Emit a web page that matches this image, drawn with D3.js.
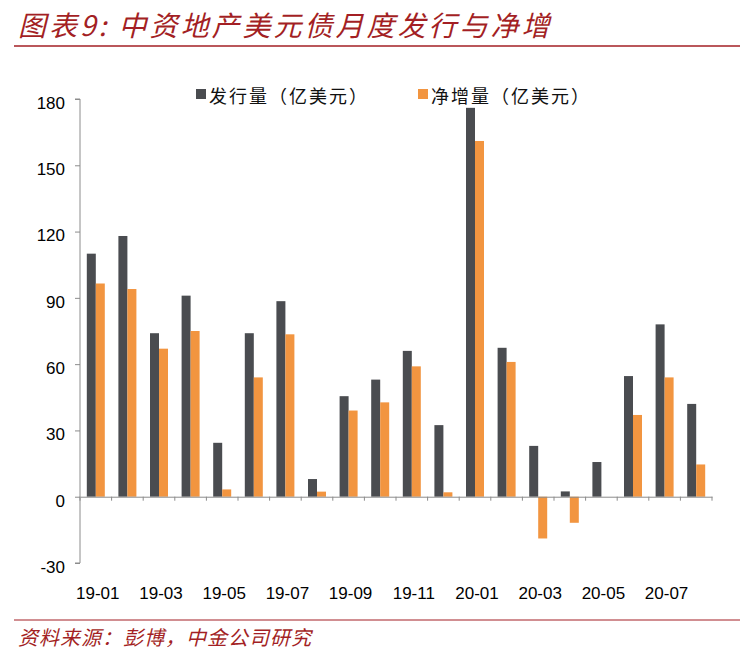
<!DOCTYPE html>
<html><head><meta charset="utf-8">
<script src="https://cdn.jsdelivr.net/npm/d3@7"></script>
<style>body{margin:0;background:#fff}svg{display:block}</style></head>
<body><svg id="c" width="751" height="657"></svg>
<script>
const categories=["19-01","19-02","19-03","19-04","19-05","19-06","19-07","19-08","19-09","19-10","19-11","19-12","20-01","20-02","20-03","20-04","20-05","20-06","20-07","20-08"];
const issuance=[110,118,74,91,24.4,74,88.5,8,45.5,53,66,32.4,176,67.4,23,2.4,15.7,54.6,78,42];
const netIncrease=[96.5,94,67,75,3.3,54,73.5,2.3,39,42.7,59,2,161,61,-18.9,-11.8,0,37,54,14.6];
const yTicks=[-30,0,30,60,90,120,150,180];
const seriesNames=["发行量（亿美元）","净增量（亿美元）"];
const colors=["#4a4c50","#f29540"];

const svg=d3.select("#c");
const cjk="'Noto Sans CJK SC',serif";
svg.append("text").attr("x",18).attr("y",36).attr("fill","#a31f24").attr("font-size",28).attr("font-style","italic").attr("letter-spacing",3).attr("font-family",cjk).text("图表9:  中资地产美元债月度发行与净增");
svg.append("line").attr("x1",14).attr("x2",740).attr("y1",46).attr("y2",46).attr("stroke","#a31f24").attr("stroke-width",1.5);
svg.append("line").attr("x1",14).attr("x2",740).attr("y1",620).attr("y2",620).attr("stroke","#a31f24").attr("stroke-width",1);
svg.append("text").attr("x",18).attr("y",645).attr("fill","#a31f24").attr("font-size",20).attr("font-style","italic").attr("letter-spacing",1).attr("font-family",cjk).text("资料来源：彭博，中金公司研究");

const x=d3.scaleBand().domain(categories).range([80,712]).paddingInner(0).paddingOuter(0);
const y=d3.scaleLinear().domain([-30,180]).range([563,99]);
const bw=9;
const g=svg.append("g");
[issuance,netIncrease].forEach((s,k)=>{
  g.selectAll(null).data(s).enter().append("rect")
   .attr("x",(d,i)=>x(categories[i])+x.bandwidth()/2-bw+k*bw)
   .attr("width",bw)
   .attr("y",d=>y(Math.max(0,d)))
   .attr("height",d=>Math.abs(y(d)-y(0)))
   .attr("fill",colors[k]);
});
const ya=svg.append("g").attr("transform","translate(80,0)")
 .call(d3.axisLeft(y).tickValues(yTicks).tickSize(5).tickPadding(10).tickFormat(d=>String(d)));
ya.select(".domain").attr("stroke","#8c8c8c").attr("d","M-5,99H0V563H-5");
ya.selectAll(".tick line").attr("stroke","#8c8c8c");
ya.selectAll("text").attr("font-size",17).attr("font-family","Arial,'Liberation Sans'").attr("fill","#000").attr("dy","0.55em");
const xa=svg.append("g").attr("transform",`translate(0,${y(0)})`)
 .call(d3.axisBottom(x).tickValues([]).tickSizeOuter(0));
xa.select(".domain").attr("stroke","#8c8c8c");
xa.selectAll(null).data(categories.concat(["end"])).enter().append("line")
 .attr("x1",(d,i)=>80+i*x.step()).attr("x2",(d,i)=>80+i*x.step()).attr("y1",0).attr("y2",4).attr("stroke","#8c8c8c");
svg.selectAll(".xl").data(categories.filter((d,i)=>i%2==0)).enter().append("text")
 .attr("x",d=>x(d)+x.bandwidth()/2+2).attr("y",599).attr("text-anchor","middle")
 .attr("font-size",17).attr("font-family","Arial,'Liberation Sans'").text(d=>d);
const lg=[[196,seriesNames[0]],[418,seriesNames[1]]];
lg.forEach((l,k)=>{
  svg.append("rect").attr("x",l[0]).attr("y",89).attr("width",10).attr("height",10).attr("fill",colors[k]);
  svg.append("text").attr("x",l[0]+13).attr("y",103).attr("font-size",18).attr("letter-spacing",2).attr("font-family",cjk).attr("fill","#111").text(l[1]);
});
</script></body></html>
